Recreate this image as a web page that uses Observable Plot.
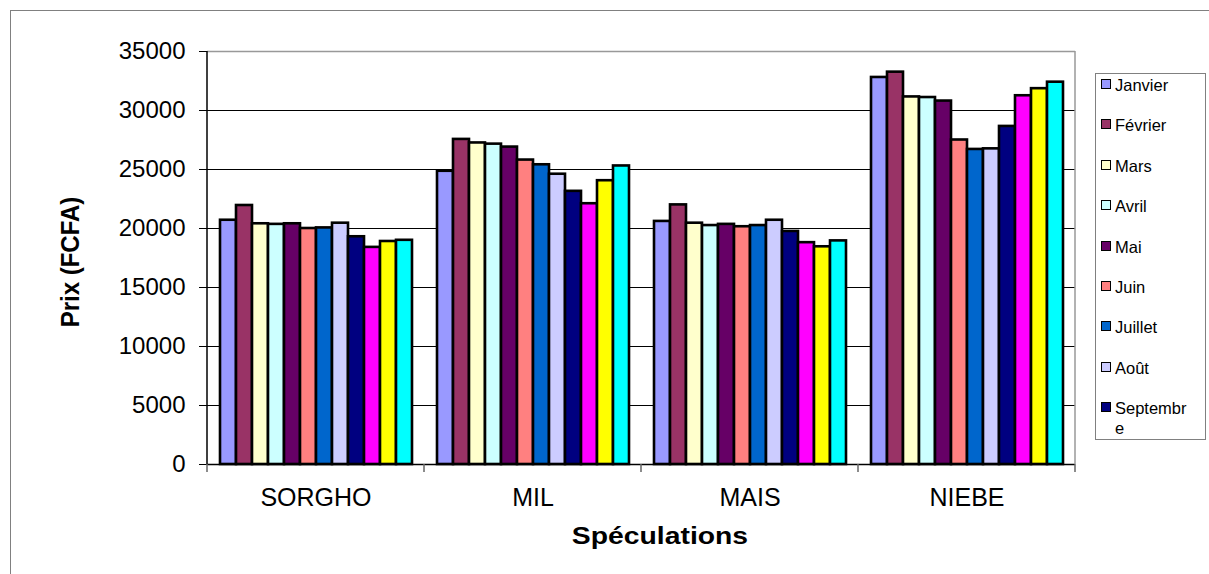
<!DOCTYPE html>
<html>
<head>
<meta charset="utf-8">
<script src="https://cdn.jsdelivr.net/npm/d3@7"></script>
<script src="https://cdn.jsdelivr.net/npm/@observablehq/plot@0.6"></script>
<style>
  html, body { margin: 0; padding: 0; background: #fff; overflow: hidden; }
  body { font-family: "Liberation Sans", Arial, sans-serif; }
  #wrap { position: relative; width: 1209px; height: 574px; overflow: hidden; }
  #border { position: absolute; left: 10px; top: 10px; width: 1400px; height: 800px; border: 1.5px solid #808080; box-sizing: border-box; }
  #chart { position: absolute; left: 0; top: 0; }
  .ytitle { position: absolute; left: 70px; top: 262px; transform: translate(-50%, -50%) rotate(-90deg) scaleY(1.1); font-weight: bold; font-size: 24px; white-space: nowrap; }
  .xtitle { position: absolute; left: 660px; top: 536px; transform: translate(-50%, -50%) scaleX(1.18); font-weight: bold; font-size: 24px; white-space: nowrap; }
  #legend { position: absolute; left: 1095px; top: 73px; width: 111px; height: 367px; border: 1.5px solid #808080; box-sizing: border-box; background: #fff; }
  .item { position: absolute; left: 5px; font-size: 16.5px; line-height: 20px; }
  .sw { position: absolute; left: 0; top: 4px; width: 8px; height: 8px; border: 1.5px solid #000; }
  .lab { position: absolute; left: 14px; top: 0; width: 76px; word-break: break-all; color: #000; }
</style>
</head>
<body>
<div id="wrap">
  <div id="border"></div>
  <div id="chart"></div>
  <div class="ytitle">Prix (FCFA)</div>
  <div class="xtitle">Spéculations</div>
  <div id="legend"></div>
</div>
<script>
const categories = ["SORGHO", "MIL", "MAIS", "NIEBE"];
const months = ["Janvier", "Février", "Mars", "Avril", "Mai", "Juin", "Juillet", "Août", "Septembre", "Octobre", "Novembre", "Décembre"];
const monthColors = ["#9999FF", "#993366", "#FFFFCC", "#CCFFFF", "#660066", "#FF8080", "#0066CC", "#CCCCFF", "#000080", "#FF00FF", "#FFFF00", "#00FFFF"];
const legendMonths = ["Janvier", "Février", "Mars", "Avril", "Mai", "Juin", "Juillet", "Août", "Septembre"];

const sorgho = [20700, 21950, 20400, 20350, 20400, 20000, 20050, 20450, 19300, 18400, 18900, 19000];
const mil    = [24850, 27550, 27250, 27150, 26900, 25800, 25400, 24600, 23150, 22100, 24050, 25300];
const mais   = [20600, 22000, 20450, 20250, 20350, 20150, 20250, 20700, 19750, 18800, 18450, 18950];
const niebe  = [32800, 33250, 31150, 31100, 30800, 27500, 26700, 26750, 28650, 31250, 31850, 32400];

const yTicks = [0, 5000, 10000, 15000, 20000, 25000, 30000, 35000];
const yGrid = [5000, 10000, 15000, 20000, 25000, 30000];

const series = {SORGHO: sorgho, MIL: mil, MAIS: mais, NIEBE: niebe};
const data = categories.flatMap(c => months.map((m, i) => ({cat: c, month: m, value: series[c][i]})));

const chart = Plot.plot({
  width: 1209,
  height: 574,
  marginLeft: 207,
  marginRight: 134,
  marginTop: 51,
  marginBottom: 110,
  style: {fontFamily: "'Liberation Sans', Arial, sans-serif", fontSize: "24px", color: "#000", background: "transparent"},
  fx: {domain: categories, padding: 0, label: null},
  x: {domain: months, paddingInner: 0, paddingOuter: 0.75, axis: null},
  y: {domain: [0, 35000], label: null},
  color: {domain: months, range: monthColors},
  marks: [
    Plot.ruleY(yGrid, {stroke: "#000", strokeWidth: 1.2}),
    Plot.ruleY([35000], {stroke: "#999", strokeWidth: 1.5}),
    Plot.barY(data, {fx: "cat", x: "month", y: "value", fill: "month", stroke: "#000", strokeWidth: 2.6}),
    Plot.ruleY([0], {stroke: "#000", strokeWidth: 1.5}),
    Plot.axisY({ticks: yTicks, tickSize: 8, tickPadding: 14, tickFormat: d => String(d), fontSize: 24, label: null}),
    Plot.axisFx({anchor: "bottom", tickSize: 0, tickPadding: 24, fontSize: 25, label: null})
  ]
});
document.getElementById("chart").appendChild(chart);

// vertical axis lines and category boundary ticks, placed from the plot's own scales
const fx = chart.scale("fx");
const ys = chart.scale("y");
const svg = d3.select(chart);
const x0 = Math.min(...fx.range), x1 = Math.max(...fx.range);
const yBottom = Math.max(...ys.range), yTop = Math.min(...ys.range);
const step = (x1 - x0) / categories.length;
const g = svg.append("g");
g.append("line").attr("x1", x0).attr("x2", x0).attr("y1", yTop).attr("y2", yBottom).attr("stroke", "#000").attr("stroke-width", 1.5);
g.append("line").attr("x1", x1).attr("x2", x1).attr("y1", yTop).attr("y2", yBottom).attr("stroke", "#999").attr("stroke-width", 1.5);
d3.range(categories.length + 1).forEach(i => {
  const x = x0 + i * step;
  g.append("line").attr("x1", x).attr("x2", x).attr("y1", yBottom).attr("y2", yBottom + 8).attr("stroke", "#666").attr("stroke-width", 1.5);
});

// legend
const legend = document.getElementById("legend");
legendMonths.forEach((m, i) => {
  const it = document.createElement("div");
  it.className = "item";
  it.style.top = (84 - 73 - 10 + i * 40.4) + "px";
  const sw = document.createElement("div");
  sw.className = "sw";
  sw.style.background = monthColors[months.indexOf(m)];
  const lab = document.createElement("div");
  lab.className = "lab";
  lab.textContent = m;
  it.appendChild(sw);
  it.appendChild(lab);
  legend.appendChild(it);
});
</script>
</body>
</html>
